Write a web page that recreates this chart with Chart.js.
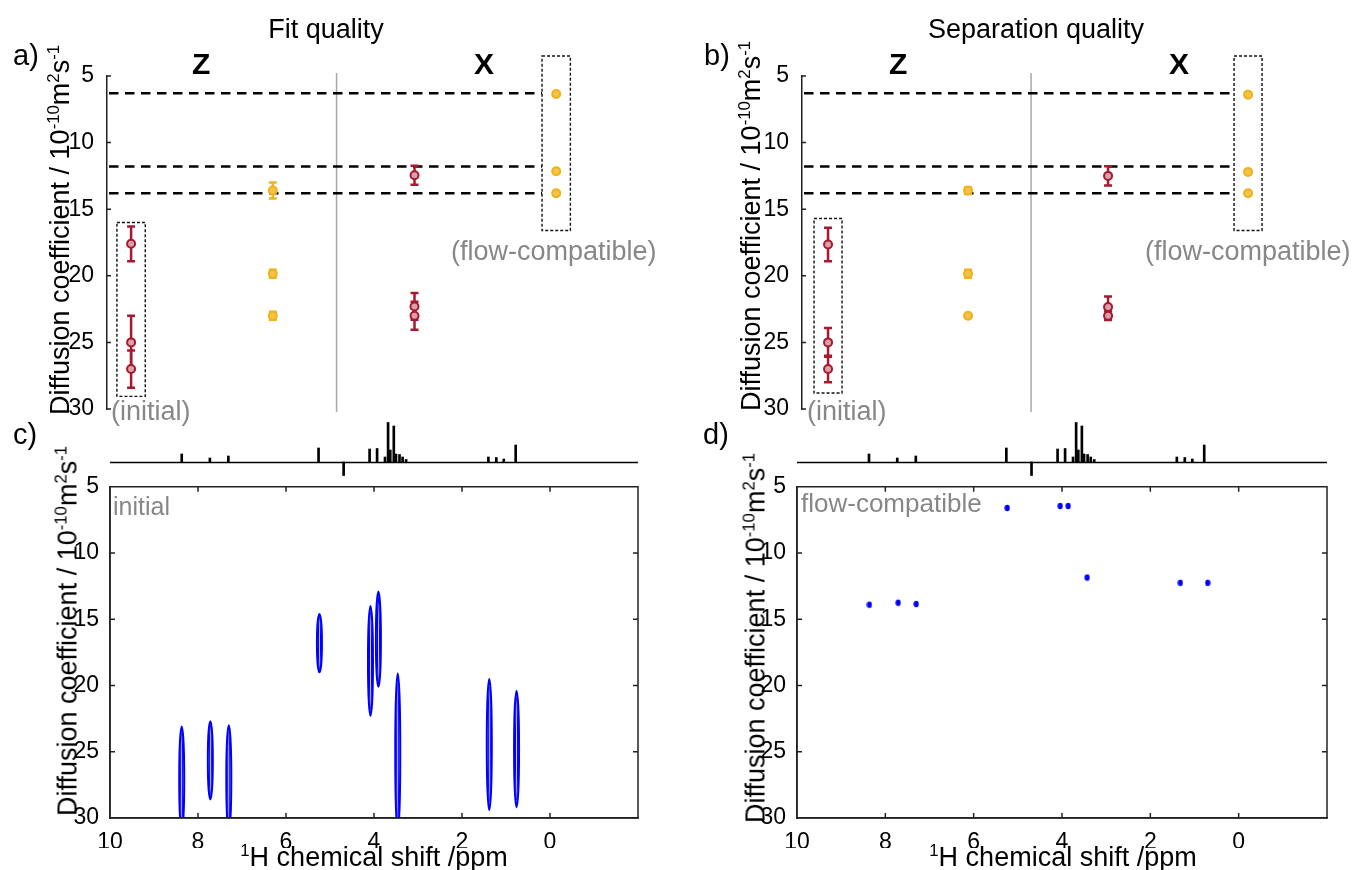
<!DOCTYPE html>
<html>
<head>
<meta charset="utf-8">
<script src="https://cdn.jsdelivr.net/npm/chart.js@4.4.1/dist/chart.umd.min.js"></script>
<style>
  html, body { margin: 0; padding: 0; background: #fff; }
  #fig { position: relative; width: 1354px; height: 870px; overflow: hidden;
         font-family: 'Liberation Sans', Arial, sans-serif; color: #000; }
  canvas { position: absolute; }
  .t { position: absolute; white-space: nowrap; line-height: 1; }
  .gray { color: #878787; }
  .ylab { position: absolute; white-space: nowrap; line-height: 1; font-size: 27px;
          transform: translate(-50%, -50%) rotate(-90deg); }
  .xlab { position: absolute; white-space: nowrap; line-height: 1; font-size: 27px;
          transform: translateX(-50%); }
  sup { font-size: 0.62em; vertical-align: 0; position: relative; top: -0.6em; }
</style>
</head>
<body>
<div id="fig">
  <canvas id="cvA" width="680" height="430" style="left:0;top:0"></canvas>
  <canvas id="cvB" width="674" height="430" style="left:680px;top:0"></canvas>
  <canvas id="cvC" width="680" height="400" style="left:0;top:470px"></canvas>
  <canvas id="cvD" width="674" height="400" style="left:680px;top:470px"></canvas>
  <canvas id="spC" width="528" height="60" style="left:110px;top:418px"></canvas>
  <canvas id="spD" width="530" height="60" style="left:797px;top:418px"></canvas>

  <div class="t" style="left:13px;top:41px;font-size:29px">a)</div>
  <div class="t" style="left:704px;top:41px;font-size:29px">b)</div>
  <div class="t" style="left:13px;top:420px;font-size:29px">c)</div>
  <div class="t" style="left:703px;top:420px;font-size:29px">d)</div>

  <div class="xlab" style="left:326px;top:16px;font-size:27px">Fit quality</div>
  <div class="xlab" style="left:1036px;top:16px;font-size:27px">Separation quality</div>

  <div class="t" style="left:192px;top:49px;font-size:30px;font-weight:bold">Z</div>
  <div class="t" style="left:474px;top:49px;font-size:30px;font-weight:bold">X</div>
  <div class="t" style="left:889px;top:49px;font-size:30px;font-weight:bold">Z</div>
  <div class="t" style="left:1169px;top:49px;font-size:30px;font-weight:bold">X</div>

  <div class="t gray" style="left:111px;top:398px;font-size:27px">(initial)</div>
  <div class="t gray" style="left:451px;top:238px;font-size:27px">(flow-compatible)</div>
  <div class="t gray" style="left:807px;top:398px;font-size:27px">(initial)</div>
  <div class="t gray" style="left:1145px;top:238px;font-size:27px">(flow-compatible)</div>
  <div class="t gray" style="left:113px;top:494px;font-size:25px">initial</div>
  <div class="t gray" style="left:801px;top:490px;font-size:26px">flow-compatible</div>

  <div class="ylab" style="left:60px;top:230px">Diffusion coefficient / 10<sup>-10</sup>m<sup>2</sup>s<sup>-1</sup></div>
  <div class="ylab" style="left:751px;top:226px">Diffusion coefficient / 10<sup>-10</sup>m<sup>2</sup>s<sup>-1</sup></div>
  <div class="ylab" style="left:68px;top:631px">Diffusion coefficient / 10<sup>-10</sup>m<sup>2</sup>s<sup>-1</sup></div>
  <div class="ylab" style="left:756px;top:638px">Diffusion coefficient / 10<sup>-10</sup>m<sup>2</sup>s<sup>-1</sup></div>

  <div class="xlab" style="left:374px;top:844px"><sup>1</sup>H chemical shift /ppm</div>
  <div class="xlab" style="left:1063px;top:844px"><sup>1</sup>H chemical shift /ppm</div>
</div>

<script>
// ---------- categories and ticks ----------
const groups = ['initial', 'Z', 'X', 'flow-compatible'];
const diffTicks = [5, 10, 15, 20, 25, 30];
const shiftTicks = [10, 8, 6, 4, 2, 0];
const refLevels = [6.3, 11.8, 13.8];

// ---------- a) fit quality: diffusion coefficients and errors ----------
const fitInitial    = [17.6, 25.0, 27.0];
const fitInitialErr = [1.3, 2.0, 1.4];
const fitZ          = [13.6, 19.85, 23.0];
const fitZErr       = [0.6, 0.3, 0.3];
const fitX          = [12.45, 22.3, 23.0];
const fitXErr       = [0.72, 1.0, 1.05];
const fitFlow       = [6.35, 12.15, 13.8];
const fitFlowErr    = [0.12, 0.12, 0.12];

// ---------- b) separation quality ----------
const sepInitial    = [17.65, 25.0, 27.0];
const sepInitialErr = [1.25, 1.08, 1.0];
const sepZ          = [13.6, 19.85, 23.0];
const sepZErr       = [0.25, 0.3, 0.12];
const sepX          = [12.5, 22.35, 23.0];
const sepXErr       = [0.72, 0.8, 0.32];
const sepFlow       = [6.4, 12.2, 13.8];
const sepFlowErr    = [0.1, 0.1, 0.1];

// ---------- 1H spectrum (ppm, intensity) ----------
const specShift  = [8.37, 7.73, 7.31, 5.26, 4.69, 4.10, 3.93, 3.75, 3.68, 3.63, 3.55, 3.50, 3.42, 3.35, 3.27, 1.40, 1.22, 1.05, 0.78];
const specHeight = [8, 4, 6, 14, -13.5, 13, 13.5, 5, 39.5, 12, 36, 8, 7.5, 5, 2.5, 5, 4.5, 3, 17];

// ---------- c) DOSY contours, initial conditions ----------
const initShift = [8.37, 7.72, 7.30, 5.24, 4.08, 3.90, 3.46, 1.38, 0.76];
const initDLow  = [23.1, 22.7, 23.0, 14.6, 14.0, 12.9, 19.1, 19.5, 20.4];
const initDHigh = [31.0, 28.6, 31.0, 19.0, 22.3, 20.1, 31.0, 29.4, 29.2];

// ---------- d) DOSY peaks, flow-compatible conditions ----------
const flowShift = [8.36, 7.71, 7.30, 5.24, 4.04, 3.86, 3.43, 1.32, 0.70];
const flowD     = [13.9, 13.75, 13.85, 6.6, 6.45, 6.45, 11.85, 12.25, 12.25];

// ---------- styling ----------
const RED = '#a6192e', RED_FILL = '#d9a0aa';
const ORANGE = '#efb21e', ORANGE_FILL = '#f4c445';
const BLUE = '#0000ff';
const FONT = "'Liberation Sans', Arial, sans-serif";
Chart.defaults.font.family = FONT;
Chart.defaults.color = '#000';

// inward tick marks (and optional full frame)
const inwardTicks = {
  id: 'inwardTicks',
  afterDraw(chart, args, o) {
    const { ctx, chartArea: a, scales: { x, y } } = chart;
    const L = o.length || 5;
    ctx.save();
    ctx.strokeStyle = '#222';
    ctx.lineWidth = 1.5;
    ctx.beginPath();
    if (o.box) ctx.rect(a.left, a.top, a.width, a.height);
    y.ticks.forEach(t => {
      const py = y.getPixelForValue(t.value);
      ctx.moveTo(a.left, py); ctx.lineTo(a.left + L, py);
      if (o.box) { ctx.moveTo(a.right, py); ctx.lineTo(a.right - L, py); }
    });
    if (o.box) x.ticks.forEach(t => {
      const px = x.getPixelForValue(t.value);
      ctx.moveTo(px, a.bottom); ctx.lineTo(px, a.bottom - L);
      ctx.moveTo(px, a.top); ctx.lineTo(px, a.top + L);
    });
    ctx.stroke();
    ctx.restore();
  }
};

// vertical error bars with caps
const errorBars = {
  id: 'errorBars',
  beforeDatasetsDraw(chart) {
    const { ctx, scales: { y } } = chart;
    chart.data.datasets.forEach((ds, i) => {
      if (!ds.errors) return;
      const meta = chart.getDatasetMeta(i);
      ctx.save();
      ctx.strokeStyle = ds.borderColor;
      ctx.lineWidth = 2.5;
      meta.data.forEach((pt, j) => {
        const v = ds.data[j].y, e = ds.errors[j];
        const y1 = y.getPixelForValue(v - e), y2 = y.getPixelForValue(v + e);
        ctx.beginPath();
        ctx.moveTo(pt.x, y1); ctx.lineTo(pt.x, y2);
        ctx.moveTo(pt.x - 4, y1); ctx.lineTo(pt.x + 4, y1);
        ctx.moveTo(pt.x - 4, y2); ctx.lineTo(pt.x + 4, y2);
        ctx.stroke();
      });
      ctx.restore();
    });
  }
};

// divider, dashed reference levels and dotted group frames
const guides = {
  id: 'guides',
  beforeDatasetsDraw(chart, args, o) {
    const { ctx, chartArea: a, scales: { x, y } } = chart;
    ctx.save();
    const dx = x.getPixelForValue(o.divider);
    ctx.strokeStyle = '#a8a8a8';
    ctx.lineWidth = 1.5;
    ctx.beginPath(); ctx.moveTo(dx, a.top - 3); ctx.lineTo(dx, a.bottom + 3); ctx.stroke();
    ctx.strokeStyle = '#000';
    ctx.lineWidth = 2.5;
    ctx.setLineDash([9.5, 6.5]);
    const xEnd = x.getPixelForValue(o.refEnd);
    o.refs.forEach(v => {
      const py = y.getPixelForValue(v);
      ctx.beginPath(); ctx.moveTo(a.left + 2, py); ctx.lineTo(xEnd, py); ctx.stroke();
    });
    ctx.restore();
  },
  afterDraw(chart, args, o) {
    const { ctx, scales: { x, y } } = chart;
    ctx.save();
    ctx.strokeStyle = '#111';
    ctx.lineWidth = 1.4;
    ctx.setLineDash([3, 2]);
    o.frames.forEach(f => {
      const l = x.getPixelForValue(f.group - 0.1), r = x.getPixelForValue(f.group + 0.1);
      const t = y.getPixelForValue(f.from), b = y.getPixelForValue(f.to);
      ctx.strokeRect(l, t, r - l, b - t);
    });
    ctx.restore();
  }
};

// contour-like ellipses drawn on each floating bar's footprint
const contourShapes = {
  id: 'contourShapes',
  afterDatasetsDraw(chart) {
    const { ctx, chartArea: a } = chart;
    ctx.save();
    ctx.beginPath(); ctx.rect(a.left, a.top, a.width, a.height); ctx.clip();
    chart.data.datasets.forEach((ds, i) => {
      if (!ds.contour) return;
      ctx.strokeStyle = ds.contour;
      chart.getDatasetMeta(i).data.forEach(el => {
        const { x, y, base, width } = el.getProps(['x', 'y', 'base', 'width'], true);
        const cy = (y + base) / 2, ry = Math.abs(base - y) / 2, rx = width / 2;
        ctx.lineWidth = 2;
        ctx.beginPath(); ctx.ellipse(x, cy, rx, ry, 0, 0, Math.PI * 2); ctx.stroke();
        ctx.lineWidth = 1.2;
        ctx.beginPath(); ctx.ellipse(x, cy, rx * 0.4, ry * 0.88, 0, 0, Math.PI * 2); ctx.stroke();
      });
    });
    ctx.restore();
  }
};

// zero line of the 1D spectrum
const zeroLine = {
  id: 'zeroLine',
  beforeDatasetsDraw(chart) {
    const { ctx, chartArea: a, scales: { y } } = chart;
    const py = Math.round(y.getPixelForValue(0)) + 0.5;
    ctx.save();
    ctx.strokeStyle = '#000';
    ctx.lineWidth = 1.5;
    ctx.beginPath(); ctx.moveTo(a.left, py); ctx.lineTo(a.right, py); ctx.stroke();
    ctx.restore();
  }
};

const tickFont = { size: 23, family: FONT };
const fixTicks = list => scale => { scale.ticks = list.map(v => ({ value: v })); };

function pointSet(label, values, errors, group, color, fill) {
  const gx = groups.indexOf(group);
  return {
    label,
    data: values.map(v => ({ x: gx, y: v })),
    errors,
    borderColor: color,
    backgroundColor: fill,
    pointRadius: 4,
    pointBorderWidth: 2,
    pointHoverRadius: 4
  };
}

function qualityChart(id, sets, pad, xMin, xMax, frames) {
  return new Chart(document.getElementById(id), {
    type: 'scatter',
    data: { datasets: sets },
    options: {
      responsive: false, animation: false, devicePixelRatio: 1,
      layout: { padding: pad },
      plugins: {
        legend: { display: false }, tooltip: { enabled: false },
        inwardTicks: { box: false, length: 4 },
        guides: { divider: 1.45, refEnd: 2.9, refs: refLevels, frames }
      },
      scales: {
        x: { type: 'linear', min: xMin, max: xMax, display: false },
        y: {
          type: 'linear', min: 5, max: 30, reverse: true,
          afterFit: s => { s.width = 50; },
          afterBuildTicks: fixTicks(diffTicks),
          grid: { display: false },
          border: { display: true, color: '#222', width: 1.5 },
          ticks: { font: tickFont, color: '#000', padding: 5 }
        }
      }
    },
    plugins: [guides, errorBars, inwardTicks]
  });
}

qualityChart('cvA', [
  pointSet('initial', fitInitial, fitInitialErr, 'initial', RED, RED_FILL),
  pointSet('Z', fitZ, fitZErr, 'Z', ORANGE, ORANGE_FILL),
  pointSet('X', fitX, fitXErr, 'X', RED, RED_FILL),
  pointSet('flow-compatible', fitFlow, fitFlowErr, 'flow-compatible', ORANGE, ORANGE_FILL)
], { left: 57, top: 76, right: 80, bottom: 21 }, -0.17, 3.309,
  [{ group: 0, from: 16.0, to: 29.05 }, { group: 3, from: 3.5, to: 16.6 }]);

qualityChart('cvB', [
  pointSet('initial', sepInitial, sepInitialErr, 'initial', RED, RED_FILL),
  pointSet('Z', sepZ, sepZErr, 'Z', ORANGE, ORANGE_FILL),
  pointSet('X', sepX, sepXErr, 'X', RED, RED_FILL),
  pointSet('flow-compatible', sepFlow, sepFlowErr, 'flow-compatible', ORANGE, ORANGE_FILL)
], { left: 72, top: 76, right: 54, bottom: 21 }, -0.186, 3.371,
  [{ group: 0, from: 15.7, to: 28.8 }, { group: 3, from: 3.5, to: 16.6 }]);

function dosyOptions(pad) {
  return {
    responsive: false, animation: false, devicePixelRatio: 1,
    layout: { padding: pad },
    plugins: { legend: { display: false }, tooltip: { enabled: false }, inwardTicks: { box: true, length: 5 } },
    scales: {
      x: {
        type: 'linear', min: -2, max: 10, reverse: true, offset: false,
        afterFit: s => { s.height = 30; },
        afterBuildTicks: fixTicks(shiftTicks),
        grid: { display: false, offset: false },
        border: { display: true, color: '#222', width: 1.5 },
        ticks: { font: tickFont, color: '#000', padding: 3, maxRotation: 0 }
      },
      y: {
        type: 'linear', min: 5, max: 30, reverse: true,
        afterFit: s => { s.width = 50; },
        afterBuildTicks: fixTicks(diffTicks),
        grid: { display: false },
        border: { display: true, color: '#222', width: 1.5 },
        ticks: { font: tickFont, color: '#000', padding: 3 }
      }
    }
  };
}

new Chart(document.getElementById('cvC'), {
  type: 'bar',
  data: {
    datasets: [{
      label: 'initial',
      data: initShift.map((s, i) => ({ x: s, y: [initDLow[i], initDHigh[i]] })),
      backgroundColor: 'rgba(0,0,0,0)', borderWidth: 0, barThickness: 5,
      contour: BLUE
    }]
  },
  options: dosyOptions({ left: 60, top: 15, right: 42, bottom: 22 }),
  plugins: [contourShapes, inwardTicks]
});

// small filled ellipse used as the DOSY peak marker
const dot = document.createElement('canvas');
dot.width = 6; dot.height = 8;
(() => {
  const g = dot.getContext('2d');
  g.fillStyle = BLUE;
  g.beginPath(); g.ellipse(3, 4, 2.6, 3.2, 0, 0, Math.PI * 2); g.fill();
})();

new Chart(document.getElementById('cvD'), {
  type: 'scatter',
  data: {
    datasets: [{
      label: 'flow-compatible',
      data: flowShift.map((s, i) => ({ x: s, y: flowD[i] })),
      pointStyle: dot, pointRadius: 4
    }]
  },
  options: dosyOptions({ left: 67, top: 15, right: 27, bottom: 22 }),
  plugins: [inwardTicks]
});

function spectrum(id) {
  return new Chart(document.getElementById(id), {
    type: 'bar',
    data: {
      datasets: [{
        label: '1H',
        data: specShift.map((s, i) => ({ x: s, y: specHeight[i] })),
        backgroundColor: '#000', borderWidth: 0, barThickness: 2
      }]
    },
    options: {
      responsive: false, animation: false, devicePixelRatio: 1,
      layout: { padding: 0 },
      plugins: { legend: { display: false }, tooltip: { enabled: false } },
      scales: {
        x: { type: 'linear', min: -2, max: 10, reverse: true, offset: false, display: false },
        y: { min: -16, max: 44, display: false }
      }
    },
    plugins: [zeroLine]
  });
}
spectrum('spC');
spectrum('spD');
</script>
</body>
</html>
